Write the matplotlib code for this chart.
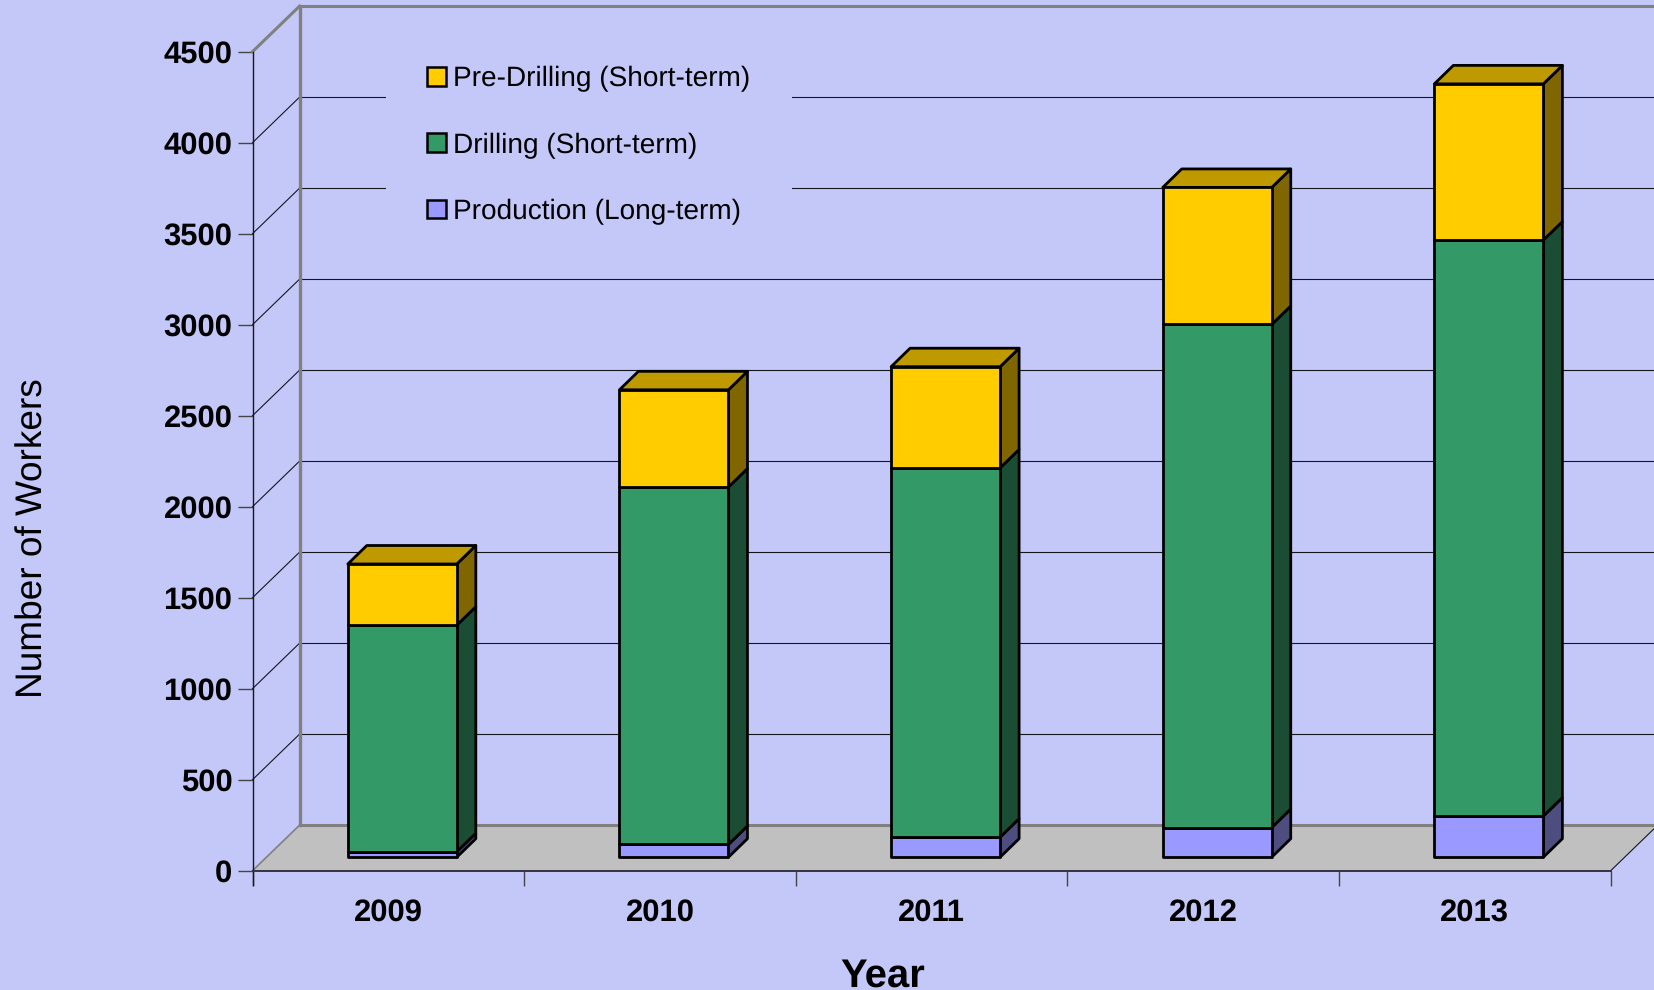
import matplotlib
matplotlib.use("Agg")
import matplotlib.pyplot as plt
from matplotlib.patches import Patch, Polygon
import numpy as np

plt.rcParams['font.family'] = ['Liberation Sans', 'DejaVu Sans']
plt.rcParams['text.hinting'] = 'no_hinting'
plt.rcParams['text.hinting_factor'] = 1

# data
years = ["2009", "2010", "2011", "2012", "2013"]
production = [30, 70, 110, 163, 226]
drilling = [1245, 1964, 2029, 2764, 3165]
pre_drilling = [336, 534, 556, 753, 858]
y_ticks = [0, 500, 1000, 1500, 2000, 2500, 3000, 3500, 4000, 4500]

series = [
    ("Production (Long-term)", production, "#9999FF", "#4D4D80", "#7373BF"),
    ("Drilling (Short-term)", drilling, "#339966", "#1A4D33", "#267350"),
    ("Pre-Drilling (Short-term)", pre_drilling, "#FFCC00", "#806600", "#BF9900"),
]

BG = "#C4C8F8"
GREY = "#808080"
DARK = "#15151F"

# pixel layout of the fake 3D box
W, H = 1654, 990
X0, Y0 = 252.5, 870.7
PX_PER_CAT = 271.64
PX_PER_UNIT = 0.182
wall_dx, wall_dy = 47 / PX_PER_CAT, 45.5 / PX_PER_UNIT
bar_off_x, bar_off_y = 14 / PX_PER_CAT, 13.5 / PX_PER_UNIT
bar_dx, bar_dy = 19 / PX_PER_CAT, 18.5 / PX_PER_UNIT
bar_w = 109 / PX_PER_CAT

fig = plt.figure(figsize=(W / 100, H / 100), dpi=100, facecolor=BG)
ax = fig.add_axes([0, 0, 1, 1], facecolor=BG)
xmin, xmax = -X0 / PX_PER_CAT, (W - X0) / PX_PER_CAT
ymin, ymax = -(H - Y0) / PX_PER_UNIT, Y0 / PX_PER_UNIT
ax.set_xlim(xmin, xmax)
ax.set_ylim(ymin, ymax)

n = len(years)
far_x = xmax + 1

# floor
ax.add_patch(Polygon([(0, 0), (n, 0), (n + wall_dx, wall_dy), (wall_dx, wall_dy)],
                     closed=True, fc="#C0C0C0", ec="none", zorder=1))

# gridlines on the side and back walls
for v in y_ticks[1:-1]:
    ax.plot([0, wall_dx], [v, v + wall_dy], color=DARK, lw=0.8, zorder=1.5)
    ax.plot([wall_dx, far_x], [v + wall_dy, v + wall_dy], color=DARK, lw=0.8, zorder=1.5)

# grey box outline
top = y_ticks[-1]
ax.plot([wall_dx, wall_dx], [wall_dy, top + wall_dy], color=GREY, lw=2.4, zorder=2)
ax.plot([wall_dx, far_x], [top + wall_dy, top + wall_dy], color=GREY, lw=2.2, zorder=2)
ax.plot([wall_dx, far_x], [wall_dy, wall_dy], color=GREY, lw=2.2, zorder=2)
ax.plot([0, wall_dx], [top, top + wall_dy], color=GREY, lw=2.2, zorder=2)
ax.plot([0, wall_dx], [0, wall_dy], color=GREY, lw=1.2, zorder=2)
ax.plot([n, n + wall_dx], [0, wall_dy], color=DARK, lw=0.8, zorder=2)

# stacked bars with side and top faces
edge = dict(edgecolor="black", linewidth=2.0, joinstyle="round")
x_front = np.arange(n) + 0.5 + bar_off_x
bottom = np.full(n, bar_off_y, dtype=float)
for idx, (name, vals, face, side, top_col) in enumerate(series):
    vals = np.array(vals, dtype=float)
    ax.bar(x_front, vals, bar_w, bottom=bottom, color=face, zorder=4, **edge)
    for xc, b, v in zip(x_front, bottom, vals):
        r = xc + bar_w / 2
        ax.add_patch(Polygon([(r, b), (r + bar_dx, b + bar_dy),
                              (r + bar_dx, b + v + bar_dy), (r, b + v)],
                             closed=True, fc=side, zorder=3, **edge))
        if idx == len(series) - 1:
            l = xc - bar_w / 2
            ax.add_patch(Polygon([(l, b + v), (r, b + v), (r + bar_dx, b + v + bar_dy),
                                  (l + bar_dx, b + v + bar_dy)],
                                 closed=True, fc=top_col, zorder=3, **edge))
    bottom = bottom + vals

# axes
for s in ["top", "right"]:
    ax.spines[s].set_visible(False)
ax.spines["left"].set_position(("data", 0))
ax.spines["left"].set_bounds(-80, top)
ax.spines["bottom"].set_position(("data", 0))
ax.spines["bottom"].set_bounds(0, n)
ax.spines["left"].set_color(DARK)
ax.spines["bottom"].set_color("#333344")
ax.spines["left"].set_linewidth(1.0)
ax.spines["bottom"].set_linewidth(1.4)

ax.set_yticks(y_ticks)
ax.set_yticklabels([str(v) for v in y_ticks], fontsize=22.5, fontweight="bold")
ax.tick_params(axis="y", length=10.5, width=1, color="#444444", pad=4)
ax.set_xticks(np.arange(n + 1))
ax.set_xticklabels([])
ax.set_xticks(np.arange(n) + 0.5, labels=years, minor=True)
ax.tick_params(axis="x", which="major", length=10.5, width=1, color="#444444", direction="out")
ax.tick_params(axis="x", which="minor", length=0, pad=19.5, labelsize=22.5)
for t in ax.get_xticklabels(minor=True):
    t.set_fontweight("bold")

ax.text(33 / W, 1 - 538 / H, "Number of Workers", transform=ax.transAxes, rotation=90,
        ha="center", va="center", fontsize=26.7)
# the word sits right on the bottom edge, as in the reference
ax.text(883 / W, 1 - 987 / H, "Year", transform=ax.transAxes,
        ha="center", va="baseline", fontsize=28.5, fontweight="bold")

handles = [Patch(fc=s[2], ec="black", lw=1.8) for s in series[::-1]]
leg = ax.legend(handles, [s[0] for s in series[::-1]], loc="upper left",
                bbox_to_anchor=(386 / W, 1 - 25 / H), bbox_transform=ax.transAxes,
                fontsize=20.5, frameon=True, facecolor=BG, edgecolor="none", framealpha=1,
                fancybox=False, borderaxespad=0, borderpad=1.45, labelspacing=1.41,
                handlelength=0.64, handleheight=0.64, handletextpad=0.28)
leg.set_zorder(2.5)

plt.savefig("out.png", dpi=100, facecolor=BG)
